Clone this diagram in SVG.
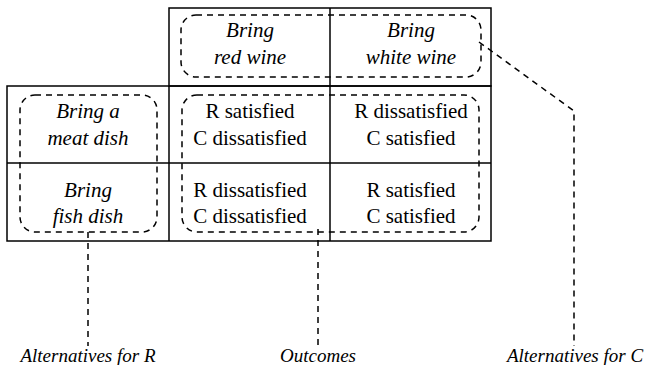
<svg xmlns="http://www.w3.org/2000/svg" width="646" height="365" viewBox="0 0 646 365">
<style>
.grid{fill:none;stroke:#000;stroke-width:1.5}
.dash{fill:none;stroke:#000;stroke-width:1.5;stroke-dasharray:6,5}
</style>
<rect width="646" height="365" fill="#fff"/>
<g id="table">
<rect class="grid" x="169" y="8" width="322" height="78"/>
<line class="grid" x1="330" y1="8" x2="330" y2="241"/>
<rect class="grid" x="7" y="86" width="484" height="155"/>
<line class="grid" x1="169" y1="86" x2="169" y2="241"/>
<line class="grid" x1="7" y1="163" x2="491" y2="163"/>
</g>
<g id="cell-red-wine">
<text font-family="Liberation Serif" font-size="21" font-style="italic" text-anchor="middle" x="250" y="37">Bring</text>
<text font-family="Liberation Serif" font-size="21" font-style="italic" text-anchor="middle" x="250" y="64">red wine</text>
</g>
<g id="cell-white-wine">
<text font-family="Liberation Serif" font-size="21" font-style="italic" text-anchor="middle" x="411" y="37">Bring</text>
<text font-family="Liberation Serif" font-size="21" font-style="italic" text-anchor="middle" x="411" y="64">white wine</text>
</g>
<g id="cell-meat">
<text font-family="Liberation Serif" font-size="21" font-style="italic" text-anchor="middle" x="88" y="118">Bring a</text>
<text font-family="Liberation Serif" font-size="21" font-style="italic" text-anchor="middle" x="88" y="145">meat dish</text>
</g>
<g id="cell-fish">
<text font-family="Liberation Serif" font-size="21" font-style="italic" text-anchor="middle" x="88" y="197">Bring</text>
<text font-family="Liberation Serif" font-size="21" font-style="italic" text-anchor="middle" x="88" y="223">fish dish</text>
</g>
<g id="outcome-meat-red">
<text font-family="Liberation Serif" font-size="21" text-anchor="middle" x="250" y="118">R satisfied</text>
<text font-family="Liberation Serif" font-size="21" text-anchor="middle" x="250" y="145">C dissatisfied</text>
</g>
<g id="outcome-meat-white">
<text font-family="Liberation Serif" font-size="21" text-anchor="middle" x="411" y="118">R dissatisfied</text>
<text font-family="Liberation Serif" font-size="21" text-anchor="middle" x="411" y="145">C satisfied</text>
</g>
<g id="outcome-fish-red">
<text font-family="Liberation Serif" font-size="21" text-anchor="middle" x="250" y="197">R dissatisfied</text>
<text font-family="Liberation Serif" font-size="21" text-anchor="middle" x="250" y="223">C dissatisfied</text>
</g>
<g id="outcome-fish-white">
<text font-family="Liberation Serif" font-size="21" text-anchor="middle" x="411" y="197">R satisfied</text>
<text font-family="Liberation Serif" font-size="21" text-anchor="middle" x="411" y="223">C satisfied</text>
</g>
<g id="alt-C-group"><rect class="dash" x="181" y="15" width="300" height="62" rx="15"/></g>
<g id="alt-R-group"><rect class="dash" x="20" y="95" width="137" height="137" rx="15"/></g>
<g id="outcomes-group"><rect class="dash" x="182" y="95" width="297" height="137" rx="15"/></g>
<g id="connectors">
<path class="dash" d="M88,232 V346"/>
<path class="dash" d="M318,229 V346"/>
<path class="dash" d="M479,42 L574,111 V346"/>
</g>
<g id="label-alt-R"><text font-family="Liberation Serif" font-size="19" font-style="italic" text-anchor="middle" x="88" y="362">Alternatives for R</text></g>
<g id="label-outcomes"><text font-family="Liberation Serif" font-size="19" font-style="italic" text-anchor="middle" x="318" y="362">Outcomes</text></g>
<g id="label-alt-C"><text font-family="Liberation Serif" font-size="19" font-style="italic" text-anchor="middle" x="575" y="362">Alternatives for C</text></g>
</svg>
